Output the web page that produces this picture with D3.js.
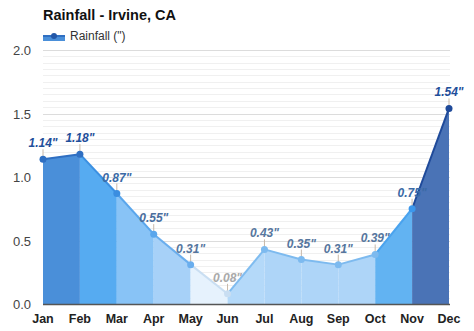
<!DOCTYPE html>
<html><head><meta charset="utf-8">
<script src="https://cdn.jsdelivr.net/npm/d3@7"></script>
<style>body{margin:0;background:#fff;font-family:Arial,"Liberation Sans",sans-serif}</style>
</head><body>
<svg id="c" width="474" height="331"></svg>
<script>
const months = ["Jan","Feb","Mar","Apr","May","Jun","Jul","Aug","Sep","Oct","Nov","Dec"];
const rainfall = [1.14,1.18,0.87,0.55,0.31,0.08,0.43,0.35,0.31,0.39,0.75,1.54];
const yTicks = [0.0,0.5,1.0,1.5,2.0];
const segFill = ["#4a8fd9","#56abf1","#88c3f6","#a7d1f8","#e6f2fd","#b4d9f9","#aed5f8","#aed5f8","#aed5f8","#62b3f2","#4a73b6"];
const segLine = ["#2f6fc2","#3b90e2","#5aa6ec","#6aaeee","#c9def2","#7fbcf0","#7dbaef","#7dbaef","#7dbaef","#4aa3ee","#1f4a9a"];
const pointCol = ["#2f6fc2","#2f6fc2","#3b8ee0","#5aa6ec","#6aaeee","#c9def2","#7dbaef","#7dbaef","#7dbaef","#7dbaef","#3b97ec","#1f4a9a"];
const labelCol = ["#1f4f9b","#1f4f9b","#3a6aa6","#4a6e9e","#56769e","#a9a9a9","#56769e","#56769e","#56769e","#56769e","#3a6aa6","#1f4f9b"];

const svg = d3.select("#c");
const x = d3.scalePoint().domain(months).range([43,449]);
const y = d3.scaleLinear().domain([0,2]).range([304,50]);

// minor grid
const minor = d3.range(0,2.001,0.05).filter(v=>Math.abs(v*2-Math.round(v*2))>1e-6);
svg.append("g").selectAll("line").data(minor).join("line")
  .attr("x1",43).attr("x2",450).attr("y1",d=>Math.round(y(d))+0.5).attr("y2",d=>Math.round(y(d))+0.5)
  .attr("stroke","#f0f0f0").attr("stroke-width",1);
svg.append("g").selectAll("line").data(yTicks.slice(1)).join("line")
  .attr("x1",43).attr("x2",450).attr("y1",d=>Math.round(y(d))+0.5).attr("y2",d=>Math.round(y(d))+0.5)
  .attr("stroke","#dcdcdc").attr("stroke-width",1);

// segments
const area = d3.area().x(d=>x(d.m)).y0(y(0)).y1(d=>y(d.v));
const pts = months.map((m,i)=>({m,v:rainfall[i]}));
for(let i=0;i<11;i++){
  svg.append("path").datum([pts[i],pts[i+1]]).attr("d",area).attr("fill",segFill[i]);
}
const line = d3.line().x(d=>x(d.m)).y(d=>y(d.v));
for(let i=0;i<11;i++){
  svg.append("path").datum([pts[i],pts[i+1]]).attr("d",line).attr("fill","none")
    .attr("stroke",segLine[i]).attr("stroke-width",2);
}
// connectors
svg.append("g").selectAll("line").data(pts).join("line")
  .attr("x1",d=>x(d.m)).attr("x2",d=>x(d.m)).attr("y1",d=>y(d.v)-2).attr("y2",d=>y(d.v)-10)
  .attr("stroke","#c8b8a8").attr("stroke-width",1);
svg.append("g").selectAll("circle").data(pts).join("circle")
  .attr("cx",d=>x(d.m)).attr("cy",d=>y(d.v)).attr("r",3.5).attr("fill",(d,i)=>pointCol[i]);
svg.append("g").selectAll("text").data(pts).join("text")
  .attr("x",d=>x(d.m)).attr("y",d=>y(d.v)-12).attr("text-anchor","middle")
  .attr("font-size",12).attr("font-weight","bold").attr("font-style","italic")
  .attr("fill",(d,i)=>labelCol[i]).text(d=>d.v.toFixed(2)+"\"");

// x axis
svg.append("line").attr("x1",43).attr("x2",450).attr("y1",304.5).attr("y2",304.5).attr("stroke","#555").attr("stroke-width",1.5);
svg.append("g").selectAll("text").data(months).join("text")
  .attr("x",d=>x(d)).attr("y",323).attr("text-anchor","middle")
  .attr("font-size",12.5).attr("font-weight","bold").attr("fill","#222").text(d=>d);
// y labels
svg.append("g").selectAll("text").data(yTicks).join("text")
  .attr("x",31).attr("y",d=>y(d)+5).attr("text-anchor","end")
  .attr("font-size",13).attr("fill","#444").text(d=>d.toFixed(1));

// title & legend
svg.append("text").attr("x",43).attr("y",20).attr("font-size",14.5).attr("font-weight","bold").attr("fill","#111").text("Rainfall - Irvine, CA");
svg.append("rect").attr("x",43).attr("y",36).attr("width",22).attr("height",5).attr("fill","#4a8fd9");
svg.append("line").attr("x1",43).attr("x2",65).attr("y1",36).attr("y2",36).attr("stroke","#2f6fc2").attr("stroke-width",2);
svg.append("circle").attr("cx",54).attr("cy",36).attr("r",3).attr("fill","#2357a8");
svg.append("text").attr("x",70).attr("y",40).attr("font-size",12).attr("fill","#333").text("Rainfall (\")");
</script>
</body></html>
